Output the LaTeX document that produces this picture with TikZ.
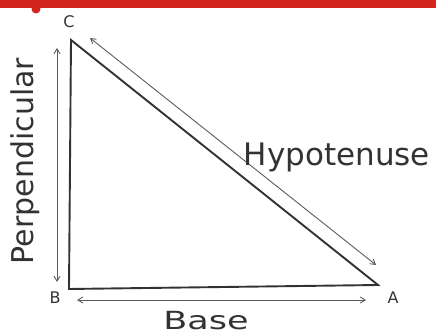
\documentclass[tikz,border=0pt]{standalone}
\usepackage{fontspec}
\setmainfont{DejaVu Sans}
\usetikzlibrary{arrows.meta,positioning,calc}
\definecolor{barred}{RGB}{212,36,30}
\definecolor{pencil}{RGB}{50,50,50}

\begin{document}
\begin{tikzpicture}[x=1pt,y=-1pt,>={Straight Barb[length=5pt,width=6pt]},
  side/.style={draw=pencil,line width=1.9pt},
  measure/.style={draw=pencil!80,line width=0.9pt},
  vlabel/.style={text=pencil,font=\fontsize{16}{16}\selectfont},
  sidetext/.style={text=pencil,font=\fontsize{#1}{#1}\selectfont}]
\useasboundingbox (0,0) rectangle (436,336);
\fill[barred] (0,0) rectangle (436,8);
\fill[barred] (36,9) circle (4.5);
% triangle
\coordinate (C) at (71,40);
\coordinate (B) at (69,289);
\coordinate (A) at (378,285);
\draw[side] (C) -- (B) -- (A) -- cycle;
\node[vlabel] (lc) at (69,22) {C};
\node[vlabel] (lb) at (55,298) {B};
\node[vlabel] (la) at (393,298) {A};
% measuring arrows
\coordinate (pt) at (57,48);
\coordinate (pb) at (57,282);
\coordinate (bl) at (77,300);
\coordinate (br) at (366,300);
\coordinate (ht) at (90,38);
\coordinate (hb) at (376,265);
\draw[measure,<->] (pt) -- (pb);
\draw[measure,<->] (bl) -- (br);
\draw[measure,<->] (ht) -- (hb);
\node[sidetext=30,rotate=90] (perp) at (25,161) {Perpendicular};
\node[sidetext=31] (hyp) at (337,157) {Hypotenuse};
\node[sidetext=25,xscale=1.4] (base) at (206,321) {Base};
\end{tikzpicture}
\end{document}
